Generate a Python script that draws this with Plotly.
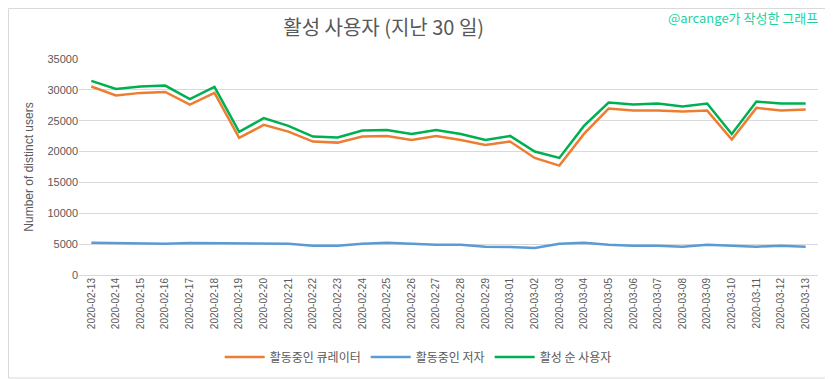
import plotly.graph_objects as go

dates = ["2020-02-13","2020-02-14","2020-02-15","2020-02-16","2020-02-17","2020-02-18",
         "2020-02-19","2020-02-20","2020-02-21","2020-02-22","2020-02-23","2020-02-24",
         "2020-02-25","2020-02-26","2020-02-27","2020-02-28","2020-02-29","2020-03-01",
         "2020-03-02","2020-03-03","2020-03-04","2020-03-05","2020-03-06","2020-03-07",
         "2020-03-08","2020-03-09","2020-03-10","2020-03-11","2020-03-12","2020-03-13"]

curators = [30540, 29080, 29510, 29670, 27620, 29510, 22220, 24320, 23240, 21620,
            21450, 22430, 22540, 21890, 22540, 21890, 21080, 21620, 18970, 17730,
            22860, 26970, 26640, 26640, 26480, 26640, 21940, 27080, 26640, 26810]

authors = [5240, 5200, 5080, 5080, 5200, 5200, 5080, 5200, 5080, 4750,
           4750, 5080, 5240, 5080, 4910, 4910, 4590, 4540, 4380, 5080,
           5240, 4910, 4750, 4750, 4590, 4910, 4750, 4590, 4750, 4590]

active = [31460, 30160, 30540, 30700, 28490, 30490, 23190, 25410, 24160, 22430,
          22270, 23400, 23510, 22860, 23510, 22860, 21890, 22540, 20000, 18970,
          24160, 27940, 27620, 27780, 27290, 27780, 22860, 28100, 27780, 27780]

series_names = ["활동중인 큐레이터", "활동중인 저자", "활성 순 사용자"]
series_colors = ["#ED7D31", "#5B9BD5", "#00B050"]

font_fam = "Liberation Sans, Noto Sans CJK KR, sans-serif"
kr_font = "Noto Sans CJK KR, sans-serif"

fig = go.Figure()
for name, vals, col in zip(series_names, [curators, authors, active], series_colors):
    fig.add_trace(go.Scatter(x=dates, y=vals, mode="lines", name=name,
                             line=dict(color=col, width=2.5)))

fig.update_layout(
    width=833, height=379,
    margin=dict(l=71, r=23, t=51, b=112, autoexpand=False),
    paper_bgcolor="white", plot_bgcolor="white",
    font=dict(family=font_fam, color="#595959", size=11),
    title=dict(text="활성 사용자 (지난 30 일)", x=0.451, xanchor="center",
               y=0.947, yanchor="middle",
               font=dict(family=kr_font, size=20, color="#595959")),
    showlegend=True,
    legend=dict(orientation="h", x=0.459, xanchor="center", y=-0.38, yanchor="middle",
                font=dict(family=kr_font, size=12, color="#595959"),
                itemwidth=40, traceorder="normal"),
    xaxis=dict(type="category", tickangle=-90, showgrid=False, showline=False,
               ticks="", tickfont=dict(size=10, color="#595959"),
               range=[-0.5, len(dates) - 0.5]),
    yaxis=dict(range=[0, 35000], dtick=5000, showgrid=True, gridcolor="#D9D9D9",
               gridwidth=1, zeroline=True, zerolinecolor="#D9D9D9", zerolinewidth=1,
               showline=False, ticks="", tickformat="d",
               tickfont=dict(size=11, color="#595959"),
               title=dict(text="Number of distinct users", standoff=11,
                          font=dict(size=12, color="#595959"))),
    annotations=[dict(text="@arcange가 작성한 그래프", xref="paper", yref="paper",
                      x=1.0027, y=1.194, xanchor="right", yanchor="middle", showarrow=False,
                      font=dict(family=kr_font, size=13, color="#22D3A0"))],
    shapes=[dict(type="rect", xref="paper", yref="paper",
                 x0=-0.0954, x1=1.019, y0=-0.4769, y1=1.2338,
                 line=dict(color="#D9D9D9", width=1), fillcolor="rgba(0,0,0,0)")],
)

fig.write_html("out.html")
